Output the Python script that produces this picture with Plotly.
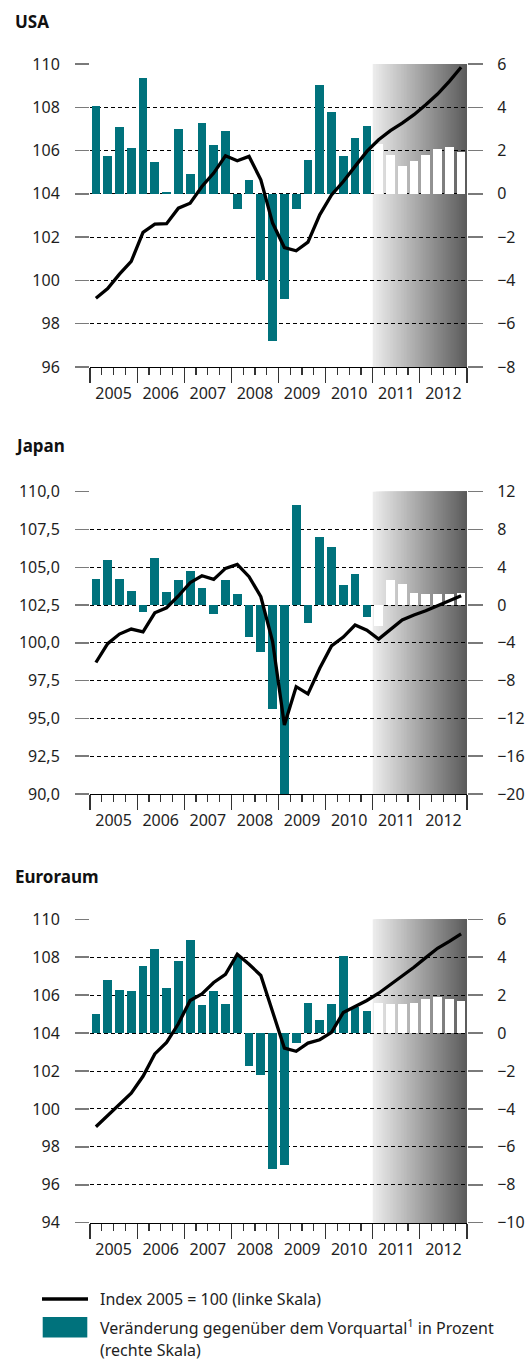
import plotly.graph_objects as go

# ---------------- data ----------------
years = [2005, 2006, 2007, 2008, 2009, 2010, 2011, 2012]
year_labels = ["2005", "2006", "2007", "2008", "2009", "2010", "2011", "2012"]
quarters_per_year = 4
forecast_start = 2011  # forecast period (shaded) begins here
n_hist = 24            # number of historical quarters (2005Q1-2010Q4)

usa_index = [99.18, 99.62, 100.29, 100.88, 102.22, 102.60, 102.62, 103.34,
             103.57, 104.34, 104.96, 105.76, 105.53, 105.73, 104.65, 102.65,
             101.52, 101.37, 101.77, 103.03, 103.95, 104.57, 105.27, 105.96,
             106.50, 106.92, 107.27, 107.66, 108.12, 108.61, 109.20, 109.85]
usa_change = [4.04, 1.73, 3.07, 2.10, 5.34, 1.45, 0.10, 2.98,
              0.90, 3.26, 2.28, 2.89, -0.71, 0.62, -3.98, -6.78,
              -4.86, -0.71, 1.57, 5.02, 3.77, 1.73, 2.56, 3.12,
              2.30, 1.80, 1.29, 1.52, 1.80, 2.06, 2.18, 1.95]

japan_index = [98.70, 99.95, 100.58, 100.91, 100.73, 101.99, 102.32, 103.10,
               103.98, 104.44, 104.20, 104.93, 105.19, 104.38, 103.05, 100.09,
               94.57, 97.10, 96.62, 98.32, 99.80, 100.38, 101.18, 100.84,
               100.25, 100.91, 101.51, 101.84, 102.12, 102.46, 102.79, 103.12]
japan_change = [2.76, 4.77, 2.76, 1.48, -0.74, 5.02, 1.38, 2.65,
                3.60, 1.80, -0.92, 2.65, 1.17, -3.36, -4.92, -10.97,
                -20.0, 10.60, -1.87, 7.24, 6.15, 2.12, 3.29, -1.22,
                -2.18, 2.65, 2.23, 1.28, 1.20, 1.20, 1.20, 1.28]

euro_index = [99.06, 99.65, 100.25, 100.83, 101.72, 102.90, 103.51, 104.49,
              105.72, 106.07, 106.67, 107.10, 108.16, 107.63, 107.04, 105.14,
              103.21, 103.04, 103.47, 103.65, 104.04, 105.09, 105.40, 105.72,
              106.10, 106.54, 106.98, 107.47, 107.98, 108.47, 108.84, 109.23]
euro_change = [1.02, 2.81, 2.28, 2.23, 3.54, 4.44, 2.40, 3.81,
               4.91, 1.49, 2.23, 1.54, 4.00, -1.75, -2.23, -7.19,
               -6.96, -0.54, 1.60, 0.70, 1.54, 4.04, 1.40, 1.14,
               1.61, 1.54, 1.54, 1.61, 1.81, 1.88, 1.81, 1.67]

panel_titles = ["USA", "Japan", "Euroraum"]
left_ranges = [[96, 110], [90, 110], [94, 110]]
left_dticks = [2, 2.5, 2]
left_formats = ["d", ".1f", "d"]
right_ranges = [[-8, 6], [-20, 12], [-10, 6]]
right_dticks = [2, 4, 2]

legend_line_label = "Index 2005 = 100 (linke Skala)"
legend_bar_label_1 = "Veränderung gegenüber dem Vorquartal<sup>1</sup> in Prozent"
legend_bar_label_2 = "(rechte Skala)"

# ---------------- styling / layout ----------------
W, H = 526, 1360
TEAL = "#00727c"
FONT = "Noto Sans"
TXT = "#1e1e1e"
TICKC = "#7a7a7a"

def px_x(p):
    return p / W

def px_y(p):
    return 1 - p / H

x_dom = [px_x(90), px_x(467)]
panel_px = [(64, 367), (491.7, 794), (919.3, 1222.7)]
title_px = [21.5, 446, 876]

quarter_x = [y + (q + 0.5) / quarters_per_year for y in years for q in range(quarters_per_year)]
x_end = years[-1] + 1
major_vals, major_text = [], []
for y, lab in zip(years, year_labels):
    for q in (1, 2, 3):
        major_vals.append(y + q / 4)
        major_text.append(lab if q == 2 else "")
minor_vals = years + [x_end]

bar_colors = [TEAL] * n_hist + ["white"] * (len(quarter_x) - n_hist)

series = [(usa_index, usa_change), (japan_index, japan_change), (euro_index, euro_change)]

fig = go.Figure()
layout = dict(
    width=W, height=H, margin=dict(l=0, r=0, t=0, b=0, autoexpand=False),
    paper_bgcolor="white", plot_bgcolor="rgba(0,0,0,0)",
    showlegend=False, separators=",.",
    font=dict(family=FONT, size=16, color=TXT),
    bargap=0, barmode="overlay",
)
shapes = []
annotations = []

n_strips = 60
c_left, c_right = 236, 92

for i, (idx, chg) in enumerate(series):
    xs = "" if i == 0 else str(i + 1)
    xname = "x" + xs
    nl, nr, nline = 3 * i + 1, 3 * i + 2, 3 * i + 3
    yl = "y" if nl == 1 else f"y{nl}"
    top, bot = panel_px[i]
    y_dom = [px_y(bot), px_y(top)]

    layout["xaxis" + xs] = dict(
        domain=x_dom, range=[years[0], x_end], anchor=yl, automargin=False,
        tickmode="array", tickvals=major_vals, ticktext=major_text,
        ticks="outside", ticklen=7, tickwidth=1.2, tickcolor="#333",
        showline=True, linecolor="black", linewidth=1.2,
        showgrid=False, zeroline=False, ticklabelstandoff=5,
        tickfont=dict(size=16, color=TXT),
        minor=dict(tickmode="array", tickvals=minor_vals, ticks="outside",
                   ticklen=15, tickwidth=1.2, tickcolor="#333", showgrid=False),
        fixedrange=True,
    )
    layout["yaxis" + ("" if nl == 1 else str(nl))] = dict(
        domain=y_dom, range=left_ranges[i], anchor=xname, side="left", automargin=False,
        tickmode="linear", tick0=left_ranges[i][0], dtick=left_dticks[i],
        tickformat=left_formats[i],
        showgrid=True, gridcolor="black", gridwidth=1, griddash="4px,3px",
        ticks="outside", ticklen=14, tickwidth=1.5, tickcolor=TICKC,
        zeroline=False, showline=False, ticklabelstandoff=12,
        tickfont=dict(size=16, color=TXT), fixedrange=True,
    )
    layout[f"yaxis{nr}"] = dict(
        domain=y_dom, overlaying=yl, range=right_ranges[i], anchor=xname, side="right",
        automargin=False,
        tickmode="linear", tick0=right_ranges[i][0], dtick=right_dticks[i],
        showgrid=False, ticks="outside", ticklen=15, tickwidth=1.5, tickcolor=TICKC,
        zeroline=False, showline=False, ticklabelstandoff=11,
        tickfont=dict(size=16, color=TXT), fixedrange=True,
    )
    layout[f"yaxis{nline}"] = dict(
        domain=y_dom, overlaying=yl, range=left_ranges[i], anchor=xname, visible=False,
        automargin=False, fixedrange=True,
    )

    # forecast shading: overlapping strips (each runs to the end) -> seamless gradient
    span = x_end - forecast_start
    for k in range(n_strips):
        t = k / (n_strips - 1)
        g = round(c_left + (c_right - c_left) * t)
        shapes.append(dict(
            type="rect", layer="below", xref=xname, yref=f"{yl} domain",
            x0=forecast_start + span * k / n_strips, x1=x_end,
            y0=0, y1=1, line=dict(width=0), fillcolor=f"rgb({g},{g},{g})",
        ))

    # invisible trace registering the base (left-axis) subplot
    fig.add_trace(go.Scatter(
        x=quarter_x, y=idx, mode="none", xaxis=xname, yaxis=yl, hoverinfo="skip",
    ))
    fig.add_trace(go.Bar(
        x=quarter_x, y=chg, width=0.185, marker=dict(color=bar_colors, line=dict(width=0)),
        xaxis=xname, yaxis=f"y{nr}", hoverinfo="skip",
    ))
    fig.add_trace(go.Scatter(
        x=quarter_x, y=idx, mode="lines", line=dict(color="black", width=3.3),
        xaxis=xname, yaxis=f"y{nline}", hoverinfo="skip",
    ))

    annotations.append(dict(
        text=f"<b>{panel_titles[i]}</b>", xref="paper", yref="paper",
        x=px_x(13), y=px_y(title_px[i]), xanchor="left", yanchor="middle",
        showarrow=False, font=dict(size=17, color="#111", family=FONT),
    ))

# legend (drawn manually)
shapes.append(dict(type="line", xref="paper", yref="paper",
                   x0=px_x(42), x1=px_x(88), y0=px_y(1299), y1=px_y(1299),
                   line=dict(color="black", width=3.5)))
shapes.append(dict(type="rect", xref="paper", yref="paper",
                   x0=px_x(42.7), x1=px_x(87.3), y0=px_y(1337.5), y1=px_y(1317),
                   line=dict(width=0), fillcolor=TEAL))
for txt, ypx in [(legend_line_label, 1299), (legend_bar_label_1, 1327), (legend_bar_label_2, 1350)]:
    annotations.append(dict(
        text=txt, xref="paper", yref="paper", x=px_x(98), y=px_y(ypx),
        xanchor="left", yanchor="middle", showarrow=False,
        font=dict(size=16, color=TXT, family=FONT),
    ))

layout["shapes"] = shapes
layout["annotations"] = annotations
fig.update_layout(**layout)
fig.write_html(
    "out.html",
    config={"displayModeBar": False, "staticPlot": True},
    post_script="document.body.style.margin='0px';document.body.style.overflow='hidden';",
)
